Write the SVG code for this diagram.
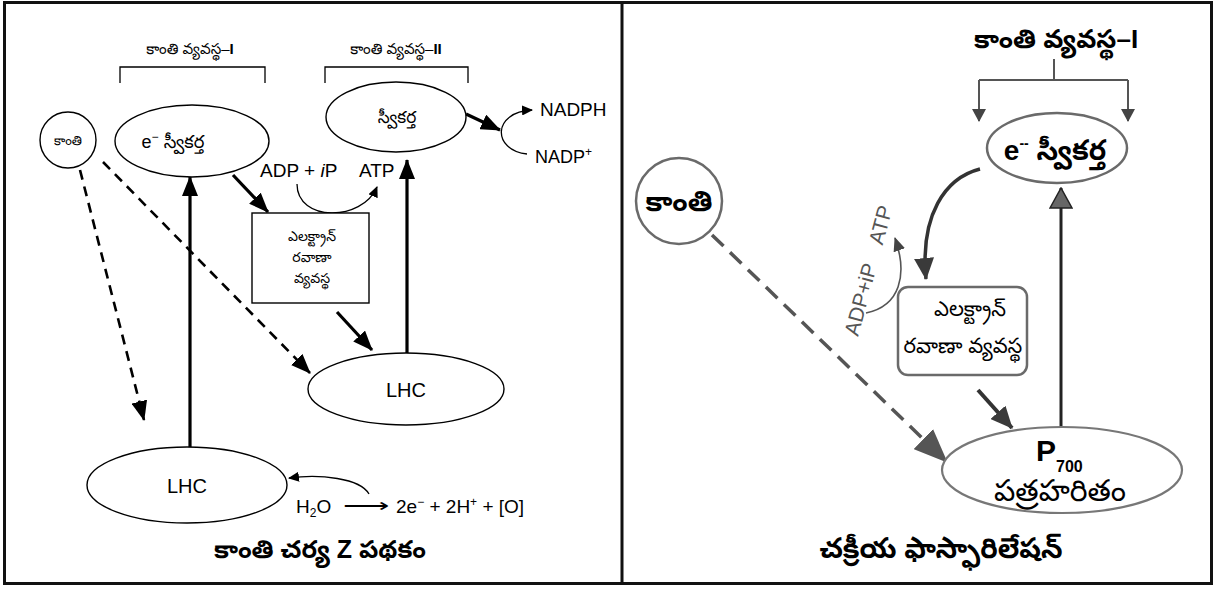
<svg xmlns="http://www.w3.org/2000/svg" width="1214" height="590" viewBox="0 0 1214 590">
<defs>
<style>
.t{font-family:'Liberation Sans','Noto Sans Telugu','Noto Sans',sans-serif;fill:#000}
.lo{fill:#fff;stroke:#000;stroke-width:1.4}
.thick{fill:none;stroke:#000;stroke-width:3.2}
.dash{fill:none;stroke:#000;stroke-width:2.6;stroke-dasharray:10 7}
.thin{fill:none;stroke:#000;stroke-width:1.3}
.ro{fill:#fff;stroke:#6a6a6a;stroke-width:2.5}
</style>
<marker id="ahL" markerUnits="userSpaceOnUse" markerWidth="20" markerHeight="16" refX="19" refY="8" orient="auto" viewBox="0 0 20 16"><path d="M0,0 L20,8 L0,16 z" fill="#000"/></marker>
<marker id="ahS" markerUnits="userSpaceOnUse" markerWidth="11" markerHeight="10" refX="10" refY="5" orient="auto" viewBox="0 0 11 10"><path d="M0,0 L11,5 L0,10 z" fill="#000"/></marker>
<marker id="ahG" markerUnits="userSpaceOnUse" markerWidth="34" markerHeight="28" refX="33" refY="14" orient="auto" viewBox="0 0 34 28"><path d="M0,0 L34,14 L0,28 z" fill="#555"/></marker>
<marker id="ahD" markerUnits="userSpaceOnUse" markerWidth="22" markerHeight="20" refX="21" refY="10" orient="auto" viewBox="0 0 22 20"><path d="M0,0 L22,10 L0,20 z" fill="#3a3a3a"/></marker>
<marker id="ahV" markerUnits="userSpaceOnUse" markerWidth="22" markerHeight="24" refX="21" refY="12" orient="auto" viewBox="0 0 22 24"><path d="M1,1 L21,12 L1,23 z" fill="#666" stroke="#222" stroke-width="1.5"/></marker>
<marker id="ahB" markerUnits="userSpaceOnUse" markerWidth="13" markerHeight="14" refX="12" refY="7" orient="auto" viewBox="0 0 13 14"><path d="M0,0 L13,7 L0,14 z" fill="#444"/></marker>
<marker id="ahC" markerUnits="userSpaceOnUse" markerWidth="14" markerHeight="12" refX="13" refY="6" orient="auto" viewBox="0 0 14 12"><path d="M0,0 L14,6 L0,12 z" fill="#444"/></marker>
</defs>
<rect x="0" y="0" width="1214" height="590" fill="#fff"/>
<rect x="4.5" y="2.5" width="1207" height="581" fill="none" stroke="#111" stroke-width="3"/>
<line x1="622" y1="2" x2="622" y2="584" stroke="#111" stroke-width="3"/>

<g id="connectors">
<path class="dash" d="M80,170 L144,420" marker-end="url(#ahL)"/>
<path class="dash" d="M103,162 L310,373" marker-end="url(#ahL)"/>
<path class="thick" d="M190,447 L190,177" marker-end="url(#ahL)"/>
<path class="thick" d="M407,353 L407,160" marker-end="url(#ahL)"/>
<path class="thick" d="M233,175 L268,212" marker-end="url(#ahL)"/>
<path class="thick" d="M337,312 L372,350" marker-end="url(#ahL)"/>
<path class="thick" d="M466,114 L500,130" marker-end="url(#ahL)"/>
<path class="thin" d="M297,184 C297,222 362,222 377,187" marker-end="url(#ahS)"/>
<path class="thin" d="M527,154 C492,150 492,112 532,110" marker-end="url(#ahS)"/>
<path class="thin" d="M369,494 C360,478 320,474 289,478" marker-end="url(#ahS)"/>
<path d="M1054,59 V80 M979,80 H1128" fill="none" stroke="#555" stroke-width="2"/>
<path d="M979,80 V121" fill="none" stroke="#555" stroke-width="2" marker-end="url(#ahB)"/>
<path d="M1128,80 V121" fill="none" stroke="#555" stroke-width="2" marker-end="url(#ahB)"/>
<path d="M712,235 L947,462" fill="none" stroke="#555" stroke-width="3.5" stroke-dasharray="16 9" marker-end="url(#ahG)"/>
<path d="M1061,432 L1061,188" fill="none" stroke="#222" stroke-width="3" marker-end="url(#ahV)"/>
<path d="M980,169 C945,178 920,215 926,279" fill="none" stroke="#333" stroke-width="3.5" marker-end="url(#ahD)"/>
<path d="M978,390 L1012,428" fill="none" stroke="#333" stroke-width="4" marker-end="url(#ahD)"/>
<path d="M866,313 C900,306 908,275 895,238" fill="none" stroke="#555" stroke-width="1.6" marker-end="url(#ahC)"/>
</g>

<g id="ps1-label">
<path class="thin" d="M120,83 V67 H265 V83"/>
<text class="t" x="190" y="54" font-size="15" text-anchor="middle">కాంతి వ్యవస్థ–<tspan font-weight="bold">I</tspan></text>
</g>
<g id="ps2-label">
<path class="thin" d="M325,83 V67 H468 V83"/>
<text class="t" x="396" y="54" font-size="15" text-anchor="middle">కాంతి వ్యవస్థ–<tspan font-weight="bold">II</tspan></text>
</g>
<g id="light-left">
<circle class="lo" cx="68" cy="140" r="28"/>
<text class="t" x="68" y="145" font-size="13" text-anchor="middle">కాంతి</text>
</g>
<g id="e-acceptor-left">
<ellipse class="lo" cx="192" cy="141" rx="77" ry="36"/>
<text class="t" x="173" y="148" font-size="18" text-anchor="middle">e<tspan font-size="12" dy="-7">−</tspan><tspan dy="7"> స్వీకర్త</tspan></text>
</g>
<g id="acceptor-ps2">
<ellipse class="lo" cx="396" cy="117" rx="70" ry="35"/>
<text class="t" x="397" y="123" font-size="17" text-anchor="middle">స్వీకర్త</text>
</g>
<g id="nadph">
<text class="t" x="540" y="116" font-size="19">NADPH</text>
<text class="t" x="535" y="163" font-size="18">NADP<tspan font-size="12" dy="-7">+</tspan></text>
</g>
<g id="atp-left">
<text class="t" x="260" y="177" font-size="19">ADP + <tspan font-style="italic">i</tspan>P</text>
<text class="t" x="359" y="177" font-size="19">ATP</text>
</g>
<g id="etc-left">
<rect class="lo" x="252" y="213" width="117" height="90"/>
<text class="t" x="312" y="241" font-size="14" text-anchor="middle">ఎలక్ట్రాన్</text>
<text class="t" x="312" y="262" font-size="14" text-anchor="middle">రవాణా</text>
<text class="t" x="312" y="283" font-size="14" text-anchor="middle">వ్యవస్థ</text>
</g>
<g id="lhc-right">
<ellipse class="lo" cx="406" cy="389" rx="98" ry="36"/>
<text class="t" x="406" y="397" font-size="20" text-anchor="middle">LHC</text>
</g>
<g id="lhc-left">
<ellipse class="lo" cx="187" cy="485" rx="100" ry="38"/>
<text class="t" x="187" y="493" font-size="20" text-anchor="middle">LHC</text>
</g>
<g id="water">
<text class="t" x="296" y="513" font-size="19">H<tspan font-size="12" dy="4">2</tspan><tspan dy="-4">O</tspan></text>
<text class="t" x="343" y="512" font-size="19" textLength="46" lengthAdjust="spacingAndGlyphs">⟶</text>
<text class="t" x="396" y="513" font-size="19">2e<tspan font-size="12" dy="-7">−</tspan><tspan dy="7"> + 2H</tspan><tspan font-size="12" dy="-7">+</tspan><tspan dy="7"> + [O]</tspan></text>
</g>
<g id="title-left">
<text class="t" x="320" y="558" font-size="25" font-weight="bold" text-anchor="middle">కాంతి చర్య Z పథకం</text>
</g>

<g id="ps1-right-label">
<text class="t" x="1056" y="48" font-size="26" font-weight="bold" text-anchor="middle">కాంతి వ్యవస్థ–I</text>
</g>
<g id="light-right">
<circle class="ro" cx="679" cy="201" r="43"/>
<text class="t" x="679" y="211" font-size="28" font-weight="bold" text-anchor="middle">కాంతి</text>
</g>
<g id="e-acceptor-right">
<ellipse class="ro" cx="1057" cy="148" rx="70" ry="35"/>
<text class="t" x="1055" y="160" font-size="28" font-weight="bold" text-anchor="middle">e<tspan font-size="14" dy="-12">--</tspan><tspan dy="12"> స్వీకర్త</tspan></text>
</g>
<g id="atp-right">
<text class="t" transform="translate(858,337) rotate(-75)" font-size="21" style="fill:#555">ADP+iP<tspan dx="22">ATP</tspan></text>
</g>
<g id="etc-right">
<rect class="ro" x="898" y="287" width="129" height="88" rx="10"/>
<text class="t" x="970" y="316" font-size="21" text-anchor="middle">ఎలక్ట్రాన్</text>
<text class="t" x="963" y="353" font-size="21" text-anchor="middle">రవాణా వ్యవస్థ</text>
</g>
<g id="p700">
<ellipse fill="#fff" stroke="#777" stroke-width="2.2" cx="1062" cy="470" rx="120" ry="43"/>
<text class="t" x="1036" y="461" font-size="30" font-weight="bold">P<tspan font-size="16" dy="11">700</tspan></text>
<text class="t" x="1060" y="501" font-size="30" text-anchor="middle">పత్రహరితం</text>
</g>
<g id="title-right">
<text class="t" x="941" y="558" font-size="28" font-weight="bold" text-anchor="middle">చక్రీయ ఫాస్ఫారిలేషన్</text>
</g>
</svg>
